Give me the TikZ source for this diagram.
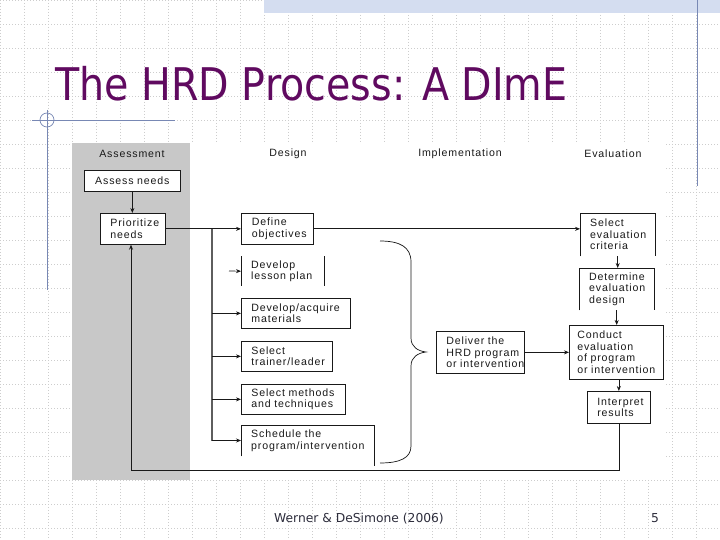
\documentclass[tikz,border=0pt]{standalone}
\usepackage{graphicx}
\usepackage{fontspec}
\setmainfont{Liberation Sans}
\newfontfamily\diagfont[LetterSpace=8]{Liberation Sans}
\newfontfamily\slidefont{DejaVu Sans}
\newcommand\dfontsel{\diagfont\fontsize{10.6}{11.5}\selectfont\hyphenpenalty=10000\relax}
\usetikzlibrary{arrows.meta}
\definecolor{titlepurple}{RGB}{96,10,96}
\definecolor{decor}{RGB}{120,136,180}
\definecolor{gridc}{RGB}{205,205,205}
\definecolor{bandc}{RGB}{212,221,240}
\definecolor{panelgray}{RGB}{200,200,200}
\definecolor{ink}{RGB}{25,25,25}
\definecolor{footc}{RGB}{45,45,60}
\begin{document}
\begin{tikzpicture}[x=1pt,y=-1pt,
  dtext/.style={font=\dfontsel, text=ink},
  bx/.style={dtext, draw=ink, line width=0.7pt, anchor=north west, align=left, inner ysep=0pt},
  nb/.style={dtext, anchor=north west, align=left, inner ysep=0pt},
  side/.style={draw=ink, line width=0.7pt},
  arr/.style={draw=ink, line width=0.7pt, -{Stealth[length=5pt,width=4pt]}},
  ln/.style={draw=ink, line width=0.7pt},
  gridline/.style={draw=gridc, line width=0.6pt, dash pattern=on 1pt off 2pt},
  decorline/.style={draw=decor, line width=0.9pt}
]
\useasboundingbox (0,0) rectangle (720,540);
\fill[white] (0,0) rectangle (720,540);
% background grid
\foreach \x in {0,24,...,720} \draw[gridline] (\x,0) -- (\x,540);
\foreach \y in {0,24,...,540} \draw[gridline] (0,\y) -- (720,\y);
% top band and decorations
\fill[bandc] (264,0) rectangle (720,13);
\draw[decorline] (697,0) -- (697,186);
\draw[decorline] (32,120) -- (175,120);
\draw[decorline] (47,110) -- (47,290);
\draw[draw=decor, line width=0.7pt] (47,120) circle (7);
% title
\node[anchor=base west, text=titlepurple, font=\slidefont\fontsize{45}{50}\selectfont, inner sep=0pt] (title) at (55,101) {\scalebox{0.88}[1]{The HRD Process: A DImE}};
% diagram panel
\fill[white] (72,143) rectangle (665,480);
\fill[panelgray] (72,143) rectangle (190,480);
% headers
\node[dtext] (hA) at (132,154) {Assessment};
\node[dtext] (hD) at (288,154) {Design};
\node[dtext] (hI) at (460,154) {Implementation};
\node[dtext] (hE) at (613,154) {Evaluation};
% boxes
\node[bx, fill=white, text width=80pt, inner xsep=8pt, minimum height=21pt, align=center] (assess) at (84,170) {Assess~needs};
\node[bx, fill=white, text width=45pt, inner xsep=10pt, minimum height=31pt] (prior) at (100,213) {Prioritize\\needs};
\node[bx, text width=51pt, inner xsep=10.5pt, minimum height=31pt] (define) at (241,213) {Define\\objectives};
\node[nb, text width=63pt, inner xsep=10pt, minimum height=30pt] (lesson) at (241,256) {Develop\\lesson~plan};
\draw[side] (lesson.north west) -- (lesson.south west);
\draw[draw=ink, line width=1.8pt] (lesson.north east) -- (lesson.south east);
\node[bx, text width=89pt, inner xsep=10pt, minimum height=30pt] (materials) at (241,298) {Develop/acquire\\materials};
\node[bx, text width=71pt, inner xsep=10pt, minimum height=30pt] (trainer) at (241,341) {Select\\trainer/leader};
\node[bx, text width=84pt, inner xsep=10pt, minimum height=30pt] (methods) at (241,384) {Select~methods\\and~techniques};
\node[nb, text width=113pt, inner xsep=10pt, minimum height=31pt] (schedule) at (241,425) {Schedule~the\\program/intervention};
\draw[side] (schedule.south west) -- (schedule.north west) -- (schedule.north east) -- ([yshift=-10pt]schedule.south east);
\node[bx, text width=68pt, inner xsep=10pt, minimum height=42pt] (deliver) at (436,331) {Deliver~the\\HRD~program\\or~intervention};
\node[nb, text width=55pt, inner xsep=10pt, minimum height=43pt] (criteria) at (580,213) {Select\\evaluation\\criteria};
\draw[side] (criteria.south west) -- (criteria.north west) -- (criteria.north east) -- (criteria.south east);
\node[nb, text width=55pt, inner xsep=10pt, minimum height=42pt] (design) at (579,268) {Determine\\evaluation\\design};
\draw[side] (design.south west) -- (design.north west) -- (design.north east) -- (design.south east);
\node[bx, fill=white, text width=78pt, inner xsep=8pt, minimum height=54pt] (conduct) at (569,325) {Conduct\\evaluation\\of~program\\or~intervention};
\node[bx, text width=43pt, inner xsep=10pt, minimum height=32pt] (interpret) at (587,391) {Interpret\\results};
% connectors
\draw[arr] (assess.south) -- (assess.south |- prior.north);
\draw[arr] (prior.east) -- (define.west);
\draw[arr] (define.east) -- (criteria.west |- define.east);
\coordinate (bt) at (212,229);
\coordinate (bb) at (212,440.5);
\draw[draw=ink!70, line width=1.6pt] (bt) -- (bb);
\coordinate (lessonarr) at (229,271);
\draw[arr] (lessonarr) -- (lesson.west);
\draw[arr] (bt |- materials.west) -- (materials.west);
\draw[arr] (bt |- trainer.west) -- (trainer.west);
\draw[arr] (bt |- methods.west) -- (methods.west);
\draw[arr] (bb) -- (schedule.west |- bb);
\draw[arr] (deliver.east) -- (conduct.west |- deliver.east);
\draw[arr] (criteria.south) -- (criteria.south |- design.north);
\draw[arr] (design.south) -- (design.south |- conduct.north);
\draw[arr] (conduct.south -| interpret.south) -- (interpret.north);
\coordinate (fb) at (131,470);
\draw[arr] (interpret.south) |- (fb) -- (fb |- prior.south);
% brace
\draw[ln] (380,241) .. controls (400,241) and (411,247) .. (411,262) -- (411,338)
  .. controls (411,347) and (418,351) .. (426,352)
  .. controls (418,353) and (411,357) .. (411,366) -- (411,446)
  .. controls (411,458) and (400,463) .. (380,463);
% footer
\node[anchor=base, font=\slidefont\fontsize{12.3}{14}\selectfont, text=footc] (foot) at (359,522) {Werner \& DeSimone (2006)};
\node[anchor=base, font=\slidefont\fontsize{12.3}{14}\selectfont, text=footc] (page) at (655,522) {5};
\end{tikzpicture}
\end{document}
